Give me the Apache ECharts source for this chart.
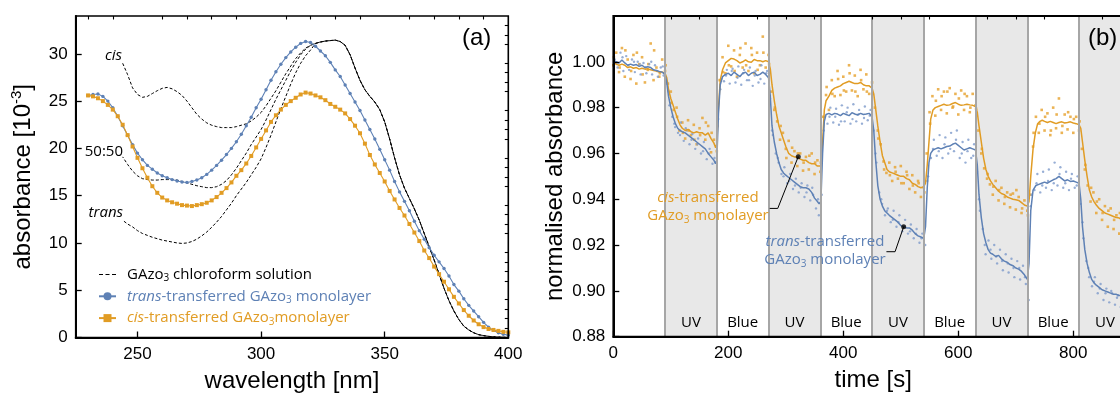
<!DOCTYPE html>
<html><head><meta charset="utf-8">
<script src="https://cdn.jsdelivr.net/npm/echarts@6/dist/echarts.min.js"></script>
<style>html,body{margin:0;padding:0;background:#fff}#c{width:1120px;height:394px}</style>
</head><body><div id="c"></div>
<script>
// ---------- Panel (a): absorbance spectra ----------
const wlMono = [230,232,234,236,238,240,242,244,246,248,250,252,254,256,258,260,262,264,266,268,270,272,274,276,278,280,282,284,286,288,290,292,294,296,298,300,302,304,306,308,310,312,314,316,318,320,322,324,326,328,330,332,334,336,338,340,342,344,346,348,350,352,354,356,358,360,362,364,366,368,370,372,374,376,378,380,382,384,386,388,390,392,394,396,398,400];
const transMono = [25.6,25.7,25.75,25.5,25.0,24.3,23.4,22.4,21.4,20.4,19.5,18.8,18.2,17.8,17.4,17.1,16.9,16.7,16.55,16.45,16.4,16.5,16.65,16.9,17.25,17.7,18.2,18.75,19.35,20.0,20.7,21.5,22.4,23.3,24.3,25.2,26.2,27.2,28.1,28.9,29.6,30.2,30.7,31.1,31.3,31.2,30.8,30.3,29.8,29.1,28.3,27.6,26.7,25.8,24.9,24.0,23.0,22.0,21.0,19.9,18.8,17.7,16.5,15.4,14.4,13.4,12.3,11.3,10.4,9.5,8.7,8.0,7.3,6.5,5.6,4.9,4.1,3.4,2.8,2.2,1.6,1.1,0.75,0.5,0.35,0.25];
const cisMono = [25.6,25.5,25.3,25.0,24.6,24.1,23.4,22.5,21.4,20.2,19.0,17.9,16.9,16.0,15.3,14.8,14.5,14.3,14.15,14.0,13.95,13.9,14.0,14.1,14.25,14.5,14.85,15.3,15.8,16.4,17.1,17.7,18.4,19.2,20.1,21.0,21.9,22.8,23.5,24.1,24.6,25.0,25.35,25.7,25.9,25.8,25.6,25.4,25.1,24.7,24.4,24.1,23.7,23.1,22.4,21.6,20.5,19.3,18.3,17.4,16.5,15.5,14.6,13.7,12.9,12.0,11.1,10.2,9.2,8.4,7.5,6.7,5.9,5.1,4.3,3.6,2.9,2.3,1.8,1.4,1.1,0.9,0.8,0.7,0.6,0.55];
const wlSol = [244,246,248,250,252,254,256,258,260,262,264,266,268,270,272,274,276,278,280,282,284,286,288,290,292,294,296,298,300,302,304,306,308,310,312,314,316,318,320,322,324,326,328,330,332,334,336,338,340,342,344,346,348,350,352,354,356,358,360,362,364,366,368,370,372,374,376,378,380,382,384,386,388,390,392,394,396,398,400];
const solCisHead = [29.0,27.8,26.4,25.7,25.4,25.5,25.8,26.1,26.35,26.45,26.3,26.0,25.6,25.0,24.3,23.6,23.1,22.7,22.45,22.3,22.2,22.2,22.2,22.3,22.45,22.6,22.9,23.3,23.8,24.5,25.3,26.1,27.0,27.9,28.7,29.5,30.1,30.6,30.9];
const solMixHead = [19.1,18.3,17.6,17.1,16.8,16.7,16.65,16.65,16.7,16.7,16.7,16.65,16.5,16.35,16.2,16.05,15.95,15.85,15.85,15.95,16.2,16.6,17.2,17.9,18.7,19.5,20.4,21.2,22.0,23.0,24.1,25.2,26.2,27.2,28.2,29.1,29.9,30.5,30.9];
const solTransHead = [12.4,12.0,11.7,11.3,11.0,10.8,10.6,10.45,10.3,10.2,10.1,10.0,9.95,10.0,10.15,10.4,10.75,11.15,11.65,12.2,12.8,13.5,14.2,15.0,15.7,16.4,17.2,18.0,18.9,20.1,21.4,22.8,24.2,25.5,26.8,28.0,29.0,29.8,30.4];
const solTail = [31.1,31.25,31.35,31.4,31.45,31.3,30.9,29.9,28.5,27.2,26.2,25.5,24.9,24.1,22.8,21.0,19.0,17.2,15.8,14.7,13.6,12.4,11.0,9.6,8.2,6.7,5.2,3.9,2.8,1.9,1.2,0.8,0.5,0.3,0.2,0.12,0.07,0.04,0.02,0.0];
const wlMajor = [250,300,350,400];
const wlMinor = [230,240,260,270,280,290,310,320,330,340,360,370,380,390];
const absMajor = [0,5,10,15,20,25,30];
const absMinor = [1,2,3,4,6,7,8,9,11,12,13,14,16,17,18,19,21,22,23,24,26,27,28,29,31,32,33];

// ---------- Panel (b): switching kinetics ----------
const lineCis = [[0,1.000],[5,.999],[10,.9985],[15,.999],[20,.9985],[25,.9975],[30,.9978],[35,.9972],[40,.9975],[45,.9968],[50,.9972],[55,.9968],[60,.997],[65,.9965],[70,.9962],[75,.996],[80,.9955],[85,.9955],[90,.995],[93,.993],[96,.988],[100,.984],[104,.981],[108,.978],[112,.975],[116,.9725],[120,.971],[125,.970],[130,.9705],[135,.9695],[140,.969],[145,.9695],[150,.969],[155,.969],[160,.968],[165,.969],[170,.9665],[175,.9645],[178,.9625],[180,.964],[183,.980],[186,.992],[190,.9965],[195,.9995],[200,1.0005],[205,1.0015],[210,1.0012],[215,1.0005],[220,.9995],[225,1.000],[230,1.0008],[235,1.000],[240,.9998],[245,1.001],[250,1.0005],[255,1.0005],[260,1.000],[265,1.0005],[270,1.000],[273,.997],[276,.990],[280,.983],[284,.977],[288,.972],[292,.969],[296,.966],[300,.963],[305,.960],[310,.959],[315,.9585],[320,.9585],[325,.9575],[330,.957],[335,.957],[340,.956],[345,.9555],[350,.9555],[355,.9545],[358,.954],[361,.9545],[364,.965],[367,.979],[370,.983],[375,.985],[380,.9875],[385,.9885],[390,.989],[395,.9895],[400,.9905],[405,.991],[410,.9915],[415,.991],[420,.9905],[425,.9905],[430,.991],[435,.990],[440,.9895],[445,.9895],[450,.9885],[453,.986],[456,.980],[460,.972],[464,.965],[468,.959],[472,.956],[476,.953],[480,.952],[485,.9515],[490,.951],[495,.9505],[500,.950],[505,.950],[510,.949],[515,.9485],[520,.947],[525,.9465],[530,.9455],[535,.945],[540,.9455],[543,.947],[546,.955],[549,.965],[552,.975],[556,.979],[560,.980],[565,.9805],[570,.981],[575,.9815],[580,.981],[585,.9812],[590,.9818],[595,.9822],[600,.9815],[605,.981],[610,.9812],[615,.9815],[620,.9812],[625,.981],[630,.9805],[633,.978],[636,.972],[640,.965],[644,.958],[648,.953],[652,.950],[656,.948],[660,.9465],[665,.945],[670,.9435],[675,.9425],[680,.942],[685,.941],[690,.9405],[695,.940],[700,.9398],[705,.9395],[710,.9385],[715,.9375],[720,.937],[723,.939],[726,.950],[730,.962],[734,.969],[738,.973],[742,.974],[746,.9745],[750,.974],[755,.9735],[760,.974],[765,.9735],[770,.973],[775,.9735],[780,.9738],[785,.9733],[790,.9735],[795,.9738],[800,.9733],[805,.973],[810,.9725],[813,.971],[816,.965],[820,.957],[824,.950],[828,.944],[832,.941],[836,.939],[840,.9375],[845,.936],[850,.935],[855,.934],[860,.9335],[865,.933],[870,.9325],[875,.932],[880,.9318],[885,.931],[890,.9305],[895,.930],[900,.9295]];
const lineTrans = [[0,1.0005],[5,1.000],[10,.9995],[15,1.0008],[20,.9995],[25,.9985],[30,.999],[35,.9985],[40,.9988],[45,.998],[50,.9985],[55,.9975],[60,.9978],[65,.9975],[70,.9965],[75,.9962],[80,.9958],[85,.9955],[90,.9945],[93,.991],[96,.985],[100,.980],[104,.976],[108,.973],[112,.971],[116,.970],[120,.9695],[125,.969],[130,.968],[135,.967],[140,.966],[145,.965],[150,.964],[155,.963],[160,.962],[165,.960],[170,.9585],[175,.957],[178,.9555],[180,.957],[183,.978],[186,.990],[190,.9935],[195,.9945],[200,.995],[205,.994],[210,.9955],[215,.9945],[220,.9935],[225,.995],[230,.9955],[235,.994],[240,.995],[245,.9955],[250,.994],[255,.9945],[260,.9955],[265,.9945],[270,.993],[273,.985],[276,.972],[280,.965],[284,.960],[288,.956],[292,.953],[296,.9515],[300,.9505],[305,.9495],[310,.9485],[315,.9475],[320,.9465],[325,.9455],[330,.945],[335,.945],[340,.9445],[345,.943],[350,.9405],[355,.939],[358,.938],[361,.939],[364,.960],[367,.974],[370,.977],[375,.9775],[380,.9768],[385,.9775],[390,.9772],[395,.9765],[400,.9775],[405,.977],[410,.9765],[415,.9778],[420,.9772],[425,.9768],[430,.9775],[435,.977],[440,.9772],[445,.9775],[450,.976],[453,.970],[456,.958],[460,.946],[464,.940],[468,.937],[472,.935],[476,.934],[480,.933],[485,.932],[490,.931],[495,.930],[500,.9285],[505,.928],[510,.9275],[515,.9275],[520,.9265],[525,.925],[530,.924],[535,.9235],[540,.923],[543,.928],[546,.945],[549,.956],[552,.960],[556,.9615],[560,.962],[565,.9625],[570,.962],[575,.9625],[580,.963],[585,.9632],[590,.964],[595,.9645],[600,.9635],[605,.9625],[610,.9615],[615,.962],[620,.9625],[625,.962],[630,.9615],[633,.955],[636,.942],[640,.932],[644,.925],[648,.921],[652,.918],[656,.9165],[660,.916],[665,.915],[670,.9155],[675,.914],[680,.913],[685,.9125],[690,.9115],[695,.911],[700,.910],[705,.9095],[710,.9085],[715,.907],[720,.905],[723,.912],[726,.935],[730,.944],[735,.946],[740,.9465],[745,.947],[750,.9475],[755,.947],[760,.9478],[765,.9485],[770,.949],[775,.950],[780,.949],[785,.948],[790,.9485],[795,.9478],[800,.948],[805,.9475],[810,.947],[813,.940],[816,.928],[820,.918],[824,.912],[828,.908],[832,.905],[836,.9035],[840,.9025],[845,.9015],[850,.9005],[855,.900],[860,.8995],[865,.899],[870,.8985],[875,.8985],[880,.898],[885,.8978],[890,.8975],[895,.897],[900,.8968]];
const dotsCis = [[0,.9985],[5,1.004],[10,.9955],[15,1.006],[20,.9935],[25,1.001],[30,.9925],[35,1.003],[40,.9905],[45,.999],[50,1.002],[55,.991],[60,.9965],[65,1.008],[70,.992],[75,.9975],[80,.9935],[85,1.001],[90,.996],[95,.9905],[100,.987],[105,.979],[110,.980],[115,.970],[120,.9735],[125,.9665],[130,.9745],[135,.968],[140,.9725],[145,.964],[150,.971],[155,.9755],[160,.966],[165,.972],[170,.9605],[175,.966],[180,.961],[185,.992],[190,1.002],[195,.995],[200,1.007],[205,.998],[210,1.005],[215,.9935],[220,1.003],[225,.9975],[230,1.008],[235,.996],[240,1.006],[245,.995],[250,1.004],[255,.9985],[260,1.011],[265,.9975],[270,1.003],[275,.987],[280,.979],[285,.974],[290,.966],[295,.969],[300,.962],[305,.9655],[310,.956],[315,.961],[320,.9545],[325,.960],[330,.9525],[335,.9585],[340,.953],[345,.960],[350,.951],[355,.957],[360,.952],[365,.976],[370,.9855],[375,.979],[380,.992],[385,.985],[390,.996],[395,.9855],[400,.9935],[405,.987],[410,.9985],[415,.9875],[420,.994],[425,.985],[430,.9965],[435,.988],[440,.9945],[445,.986],[450,.991],[455,.980],[460,.970],[465,.964],[470,.9565],[475,.9515],[480,.956],[485,.948],[490,.954],[495,.949],[500,.9545],[505,.947],[510,.952],[515,.9445],[520,.9505],[525,.943],[530,.948],[535,.941],[540,.945],[545,.960],[550,.978],[555,.985],[560,.9765],[565,.988],[570,.979],[575,.987],[580,.9775],[585,.9885],[590,.980],[595,.986],[600,.977],[605,.9875],[610,.979],[615,.985],[620,.978],[625,.986],[630,.981],[635,.970],[640,.960],[645,.9535],[650,.949],[655,.9465],[660,.942],[665,.948],[670,.9395],[675,.945],[680,.938],[685,.943],[690,.9365],[695,.9425],[700,.9355],[705,.941],[710,.934],[715,.9395],[720,.935],[725,.942],[730,.963],[735,.976],[740,.969],[745,.979],[750,.970],[755,.9775],[760,.968],[765,.980],[770,.971],[775,.984],[780,.969],[785,.977],[790,.9705],[795,.976],[800,.969],[805,.976],[810,.970],[815,.962],[820,.953],[825,.946],[830,.939],[835,.943],[840,.934],[845,.940],[850,.931],[855,.937],[860,.928],[865,.936],[870,.927],[875,.933],[880,.925],[885,.932],[890,.926],[895,.931],[900,.928]];
const dotsCis2 = [[1,1.002],[11,.9975],[21,1.005],[31,.996],[41,1.004],[51,.9945],[61,.999],[71,1.005],[81,.995],[91,.9985],[101,.982],[111,.976],[121,.969],[131,.970],[141,.966],[151,.968],[161,.9735],[171,.969],[181,.972],[191,.9955],[201,.9985],[211,.996],[221,1.006],[231,.9985],[241,1.003],[251,.9965],[261,1.004],[271,.999],[281,.980],[291,.972],[301,.958],[311,.9625],[321,.960],[331,.956],[341,.959],[351,.956],[361,.956],[371,.989],[381,.986],[391,.9925],[401,.9875],[411,.995],[421,.987],[431,.992],[441,.987],[451,.986],[461,.9665],[471,.953],[481,.9505],[491,.952],[501,.947],[511,.9505],[521,.946],[531,.947],[541,.943],[551,.973],[561,.983],[571,.985],[581,.987],[591,.9805],[601,.984],[611,.986],[621,.980],[631,.9795],[641,.962],[651,.951],[661,.9455],[671,.944],[681,.941],[691,.942],[701,.944],[711,.936],[721,.933],[731,.969],[741,.973],[751,.976],[761,.970],[771,.977],[781,.972],[791,.978],[801,.975],[811,.974],[821,.955],[831,.945],[841,.939],[851,.934],[861,.935],[871,.931],[881,.934],[891,.929]];
const dotsTrans = [[2.5,1.001],[7.5,.9975],[12.5,1.004],[17.5,.996],[22.5,1.0025],[27.5,.9965],[32.5,1.001],[37.5,.9955],[42.5,1.000],[47.5,.9945],[52.5,.9995],[57.5,.995],[62.5,.999],[67.5,.9945],[72.5,.9985],[77.5,.9935],[82.5,.9975],[87.5,.994],[92.5,.9905],[97.5,.981],[102.5,.976],[107.5,.9715],[112.5,.969],[117.5,.9735],[122.5,.9655],[127.5,.970],[132.5,.964],[137.5,.9685],[142.5,.962],[147.5,.9665],[152.5,.960],[157.5,.965],[162.5,.9575],[167.5,.962],[172.5,.9555],[177.5,.956],[182.5,.975],[187.5,.9925],[192.5,.9915],[197.5,.9965],[202.5,.9905],[207.5,.997],[212.5,.991],[217.5,.998],[222.5,.990],[227.5,.9965],[232.5,.992],[237.5,.9975],[242.5,.9895],[247.5,.996],[252.5,.991],[257.5,.9985],[262.5,.9905],[267.5,.996],[272.5,.984],[277.5,.968],[282.5,.960],[287.5,.956],[292.5,.951],[297.5,.954],[302.5,.947],[307.5,.951],[312.5,.9445],[317.5,.949],[322.5,.943],[327.5,.947],[332.5,.941],[337.5,.946],[342.5,.9395],[347.5,.942],[352.5,.936],[357.5,.933],[362.5,.942],[367.5,.976],[372.5,.973],[377.5,.980],[382.5,.9735],[387.5,.9795],[392.5,.9725],[397.5,.981],[402.5,.974],[407.5,.980],[412.5,.973],[417.5,.9815],[422.5,.974],[427.5,.979],[432.5,.973],[437.5,.9805],[442.5,.9745],[447.5,.979],[452.5,.970],[457.5,.956],[462.5,.943],[467.5,.938],[472.5,.933],[477.5,.936],[482.5,.930],[487.5,.935],[492.5,.928],[497.5,.933],[502.5,.926],[507.5,.931],[512.5,.925],[517.5,.929],[522.5,.923],[527.5,.927],[532.5,.921],[537.5,.925],[542.5,.920],[547.5,.950],[552.5,.958],[557.5,.966],[562.5,.959],[567.5,.968],[572.5,.958],[577.5,.967],[582.5,.960],[587.5,.969],[592.5,.961],[597.5,.970],[602.5,.958],[607.5,.965],[612.5,.956],[617.5,.966],[622.5,.958],[627.5,.964],[632.5,.952],[637.5,.935],[642.5,.927],[647.5,.916],[652.5,.922],[657.5,.914],[662.5,.920],[667.5,.912],[672.5,.918],[677.5,.909],[682.5,.916],[687.5,.908],[692.5,.914],[697.5,.906],[702.5,.913],[707.5,.905],[712.5,.911],[717.5,.903],[722.5,.896],[727.5,.942],[732.5,.944],[737.5,.951],[742.5,.943],[747.5,.952],[752.5,.945],[757.5,.953],[762.5,.944],[767.5,.956],[772.5,.946],[777.5,.954],[782.5,.945],[787.5,.952],[792.5,.944],[797.5,.951],[802.5,.945],[807.5,.950],[812.5,.938],[817.5,.923],[822.5,.913],[827.5,.906],[832.5,.902],[837.5,.906],[842.5,.899],[847.5,.903],[852.5,.896],[857.5,.901],[862.5,.895],[867.5,.899],[872.5,.894],[877.5,.898],[882.5,.893],[887.5,.897],[892.5,.892],[897.5,.896]];
const dotsTrans2 = [[6,.999],[16,1.002],[26,.9985],[36,1.000],[46,.999],[56,.9975],[66,1.000],[76,.996],[86,.998],[96,.987],[106,.973],[116,.968],[126,.971],[136,.966],[146,.964],[156,.961],[166,.960],[176,.958],[186,.988],[196,.994],[206,.996],[216,.993],[226,.995],[236,.992],[246,.994],[256,.9925],[266,.995],[276,.970],[286,.958],[296,.950],[306,.948],[316,.946],[326,.945],[336,.943],[346,.945],[356,.940],[366,.970],[376,.976],[386,.976],[396,.974],[406,.978],[416,.975],[426,.977],[436,.9755],[446,.9765],[456,.960],[466,.940],[476,.935],[486,.931],[496,.930],[506,.928],[516,.926],[526,.925],[536,.923],[546,.948],[556,.962],[566,.961],[576,.964],[586,.962],[596,.966],[606,.960],[616,.961],[626,.959],[636,.940],[646,.920],[656,.918],[666,.915],[676,.913],[686,.912],[696,.910],[706,.910],[716,.906],[726,.937],[736,.947],[746,.946],[756,.948],[766,.947],[776,.951],[786,.947],[796,.949],[806,.946],[816,.930],[826,.910],[836,.904],[846,.901],[856,.899],[866,.900],[876,.897],[886,.899],[896,.895]];
const uvPeriods = [[90,180],[270,360],[450,540],[630,720],[810,900]];
const bluePeriods = [[180,270],[360,450],[540,630],[720,810]];
const switchTimes = [90,180,270,360,450,540,630,720,810,900];
const leaderCis = [[272,0.936],[286,0.936],[321.7,0.9586]];
const leaderTrans = [[475,0.9171],[490,0.9171],[505,0.928]];
const tMajor = [0,200,400,600,800];
const tMinor = [50,100,150,250,300,350,450,500,550,650,700,750,850,900];
const nMajor = [0.88,0.90,0.92,0.94,0.96,0.98,1.00];
const nMinor = [0.885,0.89,0.895,0.905,0.91,0.915,0.925,0.93,0.935,0.945,0.95,0.955,0.965,0.97,0.975,0.985,0.99,0.995,1.005,1.01,1.015];

// ---------- build ----------
const BLUE = '#5e81b5', ORANGE = '#e19c24', DOT_BLUE = '#7d9acb', DOT_ORANGE = '#e6a02a';
const NUMFONT = 'Liberation Sans', TXTFONT = 'Open Sans';
const pair = (xs, ys) => xs.map((x, i) => [x, ys[i]]);
const solData = [solCisHead, solMixHead, solTransHead].map(h => pair(wlSol, h.concat(solTail)));

function majorAxis(grid, min, max, ticks, extra) {
  return Object.assign({
    type: 'value', gridIndex: grid, min: min, max: max, z: 10,
    axisLine: { show: true, onZero: false, lineStyle: { color: '#000', width: 2 } },
    axisTick: { show: true, inside: true, length: 6, customValues: ticks, lineStyle: { color: '#000', width: 1.3 } },
    axisLabel: { customValues: ticks, color: '#000', fontSize: 17, fontFamily: NUMFONT, margin: 8 },
    splitLine: { show: false }
  }, extra || {});
}
function minorAxis(grid, min, max, ticks) {
  return {
    type: 'value', gridIndex: grid, min: min, max: max, z: 10,
    axisLine: { show: false, onZero: false },
    axisTick: { show: true, inside: true, length: 3.5, customValues: ticks, lineStyle: { color: '#000', width: 1.1 } },
    axisLabel: { show: false }, splitLine: { show: false }
  };
}

const legendRich = {
  k: { color: '#000', fontSize: 15, fontFamily: TXTFONT, lineHeight: 18 },
  ks: { color: '#000', fontSize: 10, fontFamily: TXTFONT, lineHeight: 10, verticalAlign: 'bottom' },
  b: { color: BLUE, fontSize: 15, fontFamily: TXTFONT, lineHeight: 18 },
  bi: { color: BLUE, fontSize: 15, fontFamily: TXTFONT, fontStyle: 'italic', lineHeight: 18 },
  bs: { color: BLUE, fontSize: 10, fontFamily: TXTFONT, lineHeight: 10, verticalAlign: 'bottom' },
  o: { color: ORANGE, fontSize: 15, fontFamily: TXTFONT, lineHeight: 18 },
  oi: { color: ORANGE, fontSize: 15, fontFamily: TXTFONT, fontStyle: 'italic', lineHeight: 18 },
  os: { color: ORANGE, fontSize: 10, fontFamily: TXTFONT, lineHeight: 10, verticalAlign: 'bottom' }
};
const legendText = {
  sol: '{k|GAzo}{ks|3}{k| chloroform solution}',
  transMono: '{bi|trans}{b|-transferred GAzo}{bs|3}{b| monolayer}',
  cisMono: '{oi|cis}{o|-transferred GAzo}{os|3}{o|monolayer}'
};

const option = {
  animation: false,
  backgroundColor: '#fff',
  grid: [
    { left: 75.7, top: 16, width: 432.6, height: 321.5, outerBoundsMode: 'none', containLabel: false, show: true, borderColor: '#000', borderWidth: 1.6, z: 10, backgroundColor: 'transparent' },
    { left: 613.3, top: 16, width: 519.8, height: 320.7, outerBoundsMode: 'none', containLabel: false, show: true, borderColor: '#000', borderWidth: 1.8, z: 10, backgroundColor: 'transparent' }
  ],
  xAxis: [
    majorAxis(0, 225, 400, wlMajor, { name: 'wavelength [nm]', nameLocation: 'middle', nameGap: 32, nameTextStyle: { fontSize: 24, fontFamily: NUMFONT, color: '#000' } }),
    minorAxis(0, 225, 400, wlMinor),
    majorAxis(1, 0, 904, tMajor, { name: 'time [s]', nameLocation: 'middle', nameGap: 32, nameTextStyle: { fontSize: 24, fontFamily: NUMFONT, color: '#000' } }),
    minorAxis(1, 0, 904, tMinor)
  ],
  yAxis: [
    majorAxis(0, 0, 34, absMajor, {
      name: '{t|absorbance [10}{s|-3}{t|]}', nameLocation: 'middle', nameGap: 38,
      nameTextStyle: { fontSize: 24, fontFamily: NUMFONT, color: '#000',
        rich: { t: { fontSize: 24, fontFamily: NUMFONT, color: '#000', lineHeight: 28 },
                s: { fontSize: 15, fontFamily: NUMFONT, color: '#000', lineHeight: 15, verticalAlign: 'top' } } }
    }),
    minorAxis(0, 0, 34, absMinor),
    majorAxis(1, 0.88, 1.02, nMajor, {
      name: 'normalised absorbance', nameLocation: 'middle', nameGap: 46,
      nameTextStyle: { fontSize: 24, fontFamily: NUMFONT, color: '#000' }
    }),
    minorAxis(1, 0.88, 1.02, nMinor)
  ],
  legend: {
    left: 93, top: 262, orient: 'vertical', itemWidth: 17, itemHeight: 10, itemGap: 5.3,
    selectedMode: false,
    data: [{ name: 'sol', itemStyle: { opacity: 0 }, lineStyle: { type: [4, 2.5], width: 1.2 } }, 'transMono', 'cisMono'],
    formatter: n => legendText[n],
    textStyle: { fontSize: 15, fontFamily: TXTFONT, rich: legendRich, padding: [0, 0, 0, 6] }
  },
  series: [
    ...solData.map((d, i) => ({
      name: 'sol', type: 'line', xAxisIndex: 0, yAxisIndex: 0, data: d, symbol: 'none', silent: true, z: 3,
      itemStyle: { color: '#000' },
      lineStyle: { color: '#000', width: 1, type: [3, 2], dashOffset: i * 1.7 }
    })),
    {
      name: 'transMono', type: 'line', xAxisIndex: 0, yAxisIndex: 0, data: pair(wlMono, transMono),
      symbol: 'circle', symbolSize: 3.4, showSymbol: true, z: 4, silent: true,
      itemStyle: { color: BLUE }, lineStyle: { color: BLUE, width: 1.1 }
    },
    {
      name: 'cisMono', type: 'line', xAxisIndex: 0, yAxisIndex: 0, data: pair(wlMono, cisMono),
      symbol: 'rect', symbolSize: 4, showSymbol: true, z: 4, silent: true,
      itemStyle: { color: ORANGE }, lineStyle: { color: ORANGE, width: 1.1 }
    },
    {
      name: 'uvBands', type: 'line', xAxisIndex: 2, yAxisIndex: 2, data: [], z: 1, silent: true,
      markArea: {
        silent: true, itemStyle: { color: '#e8e8e8' },
        label: { show: true, position: 'insideBottom', distance: 6, color: '#000', fontSize: 15, fontFamily: TXTFONT },
        data: uvPeriods.map(p => [{ xAxis: p[0], name: 'UV' }, { xAxis: p[1] }])
      },
      markLine: {
        silent: true, symbol: ['none', 'none'], label: { show: false },
        lineStyle: { color: '#a6a6a6', width: 2, type: 'solid' },
        data: switchTimes.map(t => ({ xAxis: t }))
      }
    },
    {
      name: 'blueBands', type: 'line', xAxisIndex: 2, yAxisIndex: 2, data: [], z: 1, silent: true,
      markArea: {
        silent: true, itemStyle: { color: 'rgba(0,0,0,0)' },
        label: { show: true, position: 'insideBottom', distance: 6, color: '#000', fontSize: 15, fontFamily: TXTFONT },
        data: bluePeriods.map(p => [{ xAxis: p[0], name: 'Blue' }, { xAxis: p[1] }])
      }
    },
    { name: 'dotsCis', type: 'scatter', xAxisIndex: 2, yAxisIndex: 2, data: dotsCis.concat(dotsCis2), symbol: 'rect', symbolSize: 2.6, itemStyle: { color: DOT_ORANGE }, z: 3, silent: true },
    { name: 'dotsTrans', type: 'scatter', xAxisIndex: 2, yAxisIndex: 2, data: dotsTrans.concat(dotsTrans2), symbol: 'circle', symbolSize: 2.4, itemStyle: { color: DOT_BLUE }, z: 3, silent: true },
    { name: 'lineCis', type: 'line', xAxisIndex: 2, yAxisIndex: 2, data: lineCis, symbol: 'none', lineStyle: { color: ORANGE, width: 1.5 }, z: 4, silent: true },
    { name: 'lineTrans', type: 'line', xAxisIndex: 2, yAxisIndex: 2, data: lineTrans, symbol: 'none', lineStyle: { color: BLUE, width: 1.5 }, z: 4, silent: true },
    { name: 'leaderCis', type: 'line', xAxisIndex: 2, yAxisIndex: 2, data: leaderCis, symbol: 'none', lineStyle: { color: '#000', width: 1 }, z: 6, silent: true },
    { name: 'leaderTrans', type: 'line', xAxisIndex: 2, yAxisIndex: 2, data: leaderTrans, symbol: 'none', lineStyle: { color: '#000', width: 1 }, z: 6, silent: true },
    { name: 'leaderDots', type: 'scatter', xAxisIndex: 2, yAxisIndex: 2, data: [leaderCis[2], leaderTrans[2]], symbol: 'circle', symbolSize: 5, itemStyle: { color: '#000' }, z: 7, silent: true }
  ],
  graphic: [
    { type: 'text', z: 100, x: 462, y: 38, style: { text: '(a)', fontSize: 24, fontFamily: NUMFONT, fill: '#000', verticalAlign: 'middle' } },
    { type: 'text', z: 100, x: 1088, y: 38, style: { text: '(b)', fontSize: 24, fontFamily: NUMFONT, fill: '#000', verticalAlign: 'middle' } },
    { type: 'text', z: 100, x: 122, y: 56, style: { text: 'cis', fontSize: 15, fontStyle: 'italic', fontFamily: TXTFONT, fill: '#000', align: 'right', verticalAlign: 'middle' } },
    { type: 'text', z: 100, x: 123, y: 152, style: { text: '50:50', fontSize: 15, fontFamily: TXTFONT, fill: '#000', align: 'right', verticalAlign: 'middle' } },
    { type: 'text', z: 100, x: 123, y: 213, style: { text: 'trans', fontSize: 15, fontStyle: 'italic', fontFamily: TXTFONT, fill: '#000', align: 'right', verticalAlign: 'middle' } },
    { type: 'text', z: 100, x: 708, y: 207, style: {
        text: '{oi|cis}{o|-transferred}\n{o|GAzo}{os|3}{o| monolayer}', align: 'center', verticalAlign: 'middle',
        fontSize: 15, fontFamily: TXTFONT, fill: ORANGE, rich: legendRich } },
    { type: 'text', z: 100, x: 825, y: 251, style: {
        text: '{bi|trans}{b|-transferred}\n{b|GAzo}{bs|3}{b| monolayer}', align: 'center', verticalAlign: 'middle',
        fontSize: 15, fontFamily: TXTFONT, fill: BLUE, rich: legendRich } }
  ]
};
option.yAxis[2].axisLabel.formatter = v => v.toFixed(2);
const chart = echarts.init(document.getElementById('c'));
chart.setOption(option);
</script>
</body></html>
